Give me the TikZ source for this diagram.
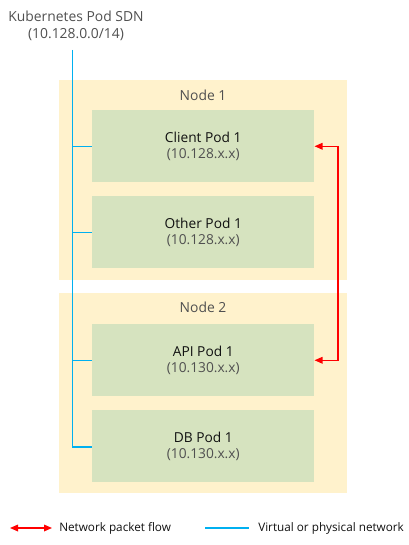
\documentclass[tikz,border=0pt]{standalone}
\usepackage{fontspec}
\setmainfont{Open Sans}
\usetikzlibrary{arrows.meta}
\definecolor{nodebg}{HTML}{FFF2CC}
\definecolor{podbg}{HTML}{D6E3BF}
\definecolor{netblue}{HTML}{00B0F0}
\definecolor{txt}{HTML}{111111}
\definecolor{subtxt}{HTML}{505050}
\begin{document}
\begin{tikzpicture}[x=0.75pt,y=-0.75pt,
  hostbox/.style={fill=nodebg,draw=none,minimum width=288*0.75pt,minimum height=200*0.75pt,anchor=north west,inner sep=0pt},
  podbox/.style={fill=podbg,draw=none,minimum width=222*0.75pt,minimum height=72*0.75pt,anchor=north west,inner sep=0pt,align=center,font=\fontsize{10.3pt}{13pt}\selectfont,text=txt},
  lbl/.style={font=\fontsize{10.4pt}{13pt}\selectfont,text=subtxt,inner sep=0pt},
  net/.style={draw=netblue,line width=0.9pt},
  tip/.style={Triangle[length=6pt,width=5pt]},
  flow/.style={draw=red,line width=0.9pt,{Triangle[length=6pt,width=5pt]}-{Triangle[length=6pt,width=5pt]}},
  legtext/.style={font=\fontsize{8.8pt}{11pt}\selectfont,text=txt,anchor=west,inner sep=0pt}]
\useasboundingbox (0,0) rectangle (409,545);
\fill[white] (0,0) rectangle (409,545);
% hosts
\node[hostbox] (n1) at (59,80) {};
\node[hostbox] (n2) at (59,293) {};
\node[lbl] (n1l) at (203,95) {Node 1};
\node[lbl] (n2l) at (203,307) {Node 2};
% pods
\node[podbox] (client) at (92,110) {Client Pod 1\\[-1pt]{\color{subtxt}(10.128.x.x)}};
\node[podbox] (other) at (92,196) {Other Pod 1\\[-1pt]{\color{subtxt}(10.128.x.x)}};
\node[podbox] (api) at (92,324) {API Pod 1\\[-1pt]{\color{subtxt}(10.130.x.x)}};
\node[podbox] (db) at (92,410) {DB Pod 1\\[-1pt]{\color{subtxt}(10.130.x.x)}};
% SDN title
\node[lbl,align=center] (sdn) at (76,26) {Kubernetes Pod SDN\\(10.128.0.0/14)};
% blue network
\coordinate (top) at (72.5,50);
\coordinate (bend) at (72.5,447);
\draw[net] (top) -- (bend) -- (bend -| db.west);
\draw[net] (client.west -| top) -- (client.west);
\draw[net] (other.west -| top) -- (other.west);
\draw[net] (api.west -| top) -- (api.west);
% red flow
\coordinate (rx) at (338,0);
\draw[flow] (api.east) -- (api.east -| rx) -- (client.east -| rx) -- (client.east);
% legend
\coordinate (la) at (10,528);
\coordinate (lb) at (52,528);
\draw[flow] (la) -- (lb);
\node[legtext] (lt1) at (59,528) {Network packet flow};
\coordinate (lc) at (205,528);
\coordinate (ld) at (249,528);
\draw[net] (lc) -- (ld);
\node[legtext] (lt2) at (258,528) {Virtual or physical network};
\end{tikzpicture}
\end{document}
